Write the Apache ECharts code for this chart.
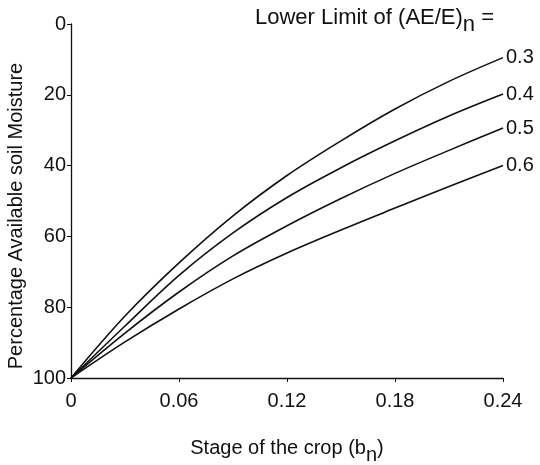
<!DOCTYPE html>
<html><head><meta charset="utf-8">
<script src="https://cdn.jsdelivr.net/npm/echarts@6/dist/echarts.min.js"></script>
<style>html,body{margin:0;padding:0;background:#fff}#c{width:540px;height:465px}</style>
</head><body><div id="c"></div>
<script>
const stages = [0, 0.03, 0.06, 0.09, 0.12, 0.15, 0.18, 0.21, 0.24];
const limits = ['0.3', '0.4', '0.5', '0.6'];
const moisture03 = [100, 82.5, 67.5, 54.2, 42.8, 33, 24, 16.2, 9.5];
const moisture04 = [100, 85.3, 71, 59, 49, 40.6, 33, 26, 19.8];
const moisture05 = [100, 87.3, 75.7, 65.5, 57, 49.3, 42.2, 35.7, 29.4];
const moisture06 = [100, 89.8, 80.5, 72, 64.7, 58.2, 52, 45.9, 40];
const yTicks = [0, 20, 40, 60, 80, 100];
const xTicks = [0, 0.06, 0.12, 0.18, 0.24];

const seriesValues = [moisture03, moisture04, moisture05, moisture06];
const font = '"Liberation Sans", Arial, sans-serif';
const ink = '#111';
const chart = echarts.init(document.getElementById('c'));
chart.setOption({
  animation: false,
  backgroundColor: '#fff',
  title: {
    text: 'Lower Limit of (AE/E){sub|n} =',
    left: 255, top: 0, padding: 0,
    textStyle: {
      fontFamily: font, fontSize: 22, fontWeight: 'normal', color: ink,
      rich: { sub: { fontFamily: font, fontSize: 22, color: ink, padding: [14, 0, 0, 0] } }
    }
  },
  graphic: [{
    type: 'text',
    x: 16, y: 216, rotation: Math.PI / 2,
    style: {
      text: 'Percentage Available soil Moisture',
      font: '20px "Liberation Sans", Arial, sans-serif',
      fill: ink, textAlign: 'center', textVerticalAlign: 'middle'
    }
  }],
  grid: { left: 71, right: 37, top: 24, bottom: 87, outerBoundsMode: 'none', containLabel: false },
  xAxis: {
    type: 'value', min: 0, max: 0.24, interval: 0.06, position: 'bottom',
    name: 'Stage of the crop (b{sub|n})',
    nameLocation: 'middle', nameGap: 53,
    nameTextStyle: {
      fontFamily: font, fontSize: 20, color: ink,
      rich: { sub: { fontFamily: font, fontSize: 20, color: ink, padding: [14, 0, 0, 0] } }
    },
    axisLine: { onZero: false, lineStyle: { color: ink, width: 1.3 } },
    axisTick: { length: 4, lineStyle: { color: ink } },
    splitLine: { show: false },
    axisLabel: {
      fontFamily: font, fontSize: 20, color: ink, margin: 13,
      formatter: v => xTicks.some(t => Math.abs(t - v) < 1e-9) ? (v === 0 ? '0' : v.toFixed(2)) : ''
    }
  },
  yAxis: {
    type: 'value', min: 0, max: 100, interval: 20, inverse: true,
    axisLine: { show: true, onZero: false, lineStyle: { color: ink, width: 1.3 } },
    axisTick: { show: true, length: 4, lineStyle: { color: ink } },
    splitLine: { show: false },
    axisLabel: {
      fontFamily: font, fontSize: 20, color: ink, margin: 5,
      formatter: v => yTicks.includes(v) ? String(v) : ''
    }
  },
  series: seriesValues.map((vals, i) => ({
    type: 'line',
    name: limits[i],
    data: stages.map((s, j) => [s, vals[j]]),
    smooth: 0.35,
    showSymbol: false,
    lineStyle: { color: ink, width: 1.6 },
    endLabel: {
      show: true, formatter: limits[i], distance: 3,
      fontFamily: font, fontSize: 20, color: ink
    }
  }))
});
</script></body></html>
